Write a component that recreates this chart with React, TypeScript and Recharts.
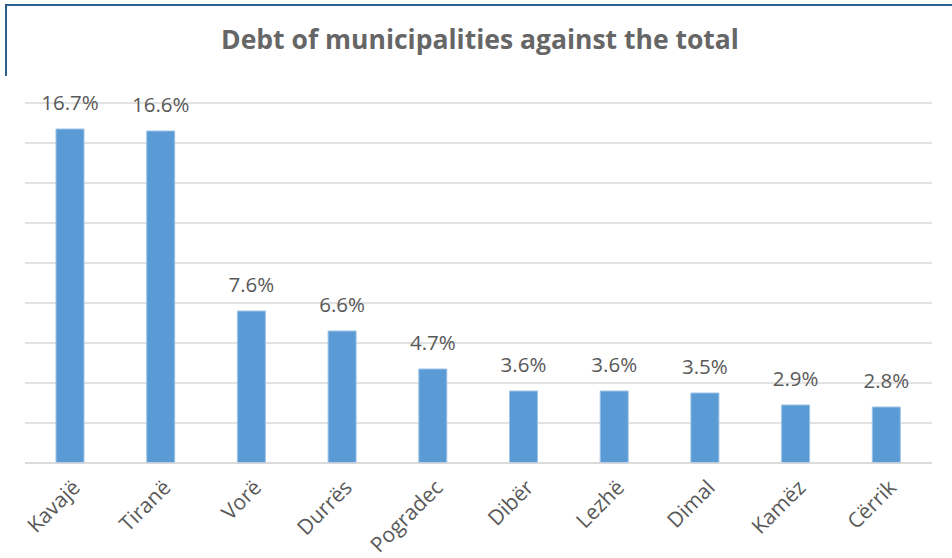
import React from 'react';
import { BarChart, Bar, XAxis, YAxis, CartesianGrid, LabelList } from 'recharts';

const municipalities = ['Kavajë', 'Tiranë', 'Vorë', 'Durrës', 'Pogradec', 'Dibër', 'Lezhë', 'Dimal', 'Kamëz', 'Cërrik'];
const debtShare = [16.7, 16.6, 7.6, 6.6, 4.7, 3.6, 3.6, 3.5, 2.9, 2.8];
const yTicks = [0, 2, 4, 6, 8, 10, 12, 14, 16, 18];

const data = municipalities.map((name, i) => ({ name, share: debtShare[i] }));

const FONT = '"Open Sans", "Noto Sans", sans-serif';

const AngledTick = (props: any) => {
  const { x, y, payload } = props;
  return (
    <g transform={`translate(${x + 6},${y + 13})`}>
      <text
        x={0}
        y={0}
        dy={7}
        textAnchor="end"
        transform="rotate(-45)"
        fill="#595959"
        fontSize={21}
        fontFamily={FONT}
      >
        {payload.value}
      </text>
    </g>
  );
};

export default function App() {
  return (
    <div style={{ position: 'absolute', left: 0, top: 0, width: 952, height: 558, background: '#fff' }}>
      <div style={{ position: 'absolute', left: 5, top: 4, width: 947, height: 2, background: '#2a6190' }} />
      <div style={{ position: 'absolute', left: 5, top: 4, width: 2, height: 72, background: '#2a6190' }} />
      <div
        style={{
          position: 'absolute',
          left: 0,
          top: 21,
          width: 960,
          textAlign: 'center',
          fontFamily: FONT,
          fontWeight: 700,
          fontSize: 26.5,
          color: '#666666',
        }}
      >
        Debt of municipalities against the total
      </div>
      <BarChart
        width={952}
        height={558}
        data={data}
        margin={{ top: 103, right: 20, left: 25, bottom: 0 }}
        barCategoryGap={0}
      >
        <CartesianGrid vertical={false} stroke="#d9d9d9" strokeWidth={1.5} />
        <YAxis hide domain={[0, 18]} ticks={yTicks} width={0} />
        <XAxis
          dataKey="name"
          interval={0}
          height={95}
          tickLine={false}
          axisLine={{ stroke: '#d9d9d9', strokeWidth: 1.5 }}
          tick={<AngledTick />}
        />
        <Bar dataKey="share" fill="#5b9bd5" stroke="#9dc3e6" strokeWidth={1} barSize={28} isAnimationActive={false}>
          <LabelList
            dataKey="share"
            position="top"
            offset={19}
            formatter={(v: any) => `${Number(v).toFixed(1)}%`}
            fill="#595959"
            fontSize={20.5}
            fontFamily={FONT}
          />
        </Bar>
      </BarChart>
    </div>
  );
}
